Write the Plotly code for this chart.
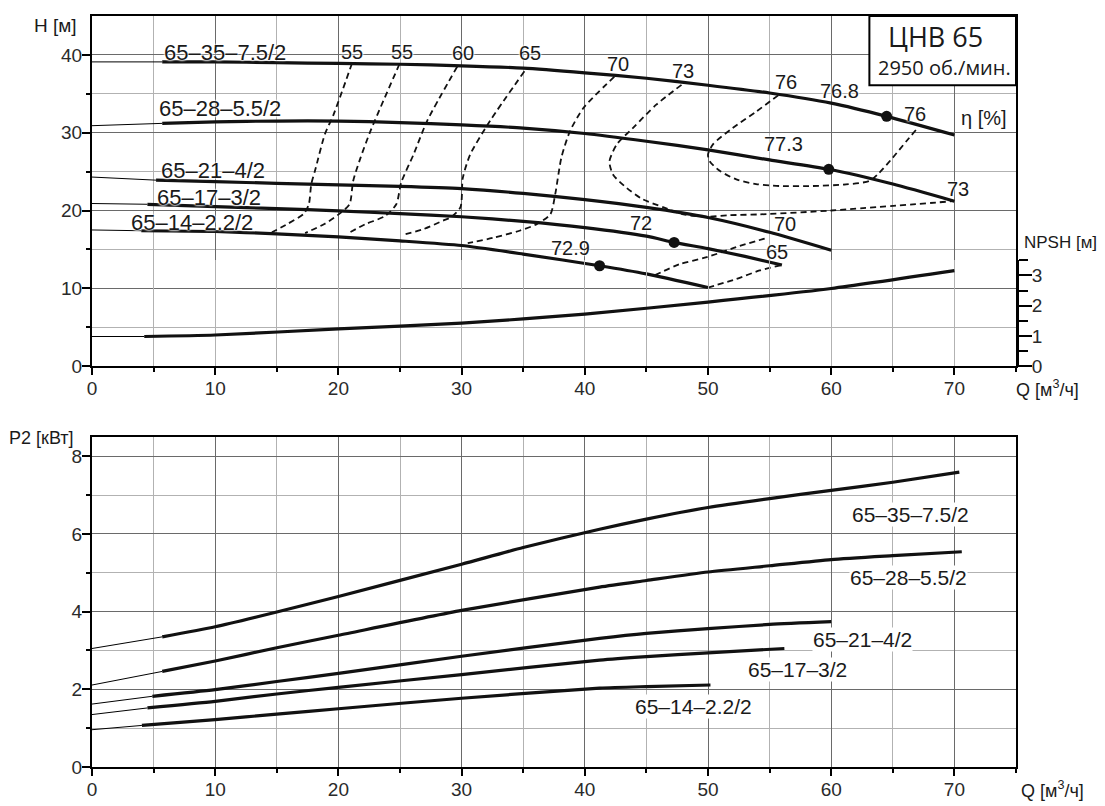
import plotly.graph_objects as go

# ---------------- data ----------------
q_ticks = [0, 5, 10, 15, 20, 25, 30, 35, 40, 45, 50, 55, 60, 65, 70, 75]
q_ticktext = ["0", "", "10", "", "20", "", "30", "", "40", "", "50", "", "60", "", "70", ""]
q_major = [0, 10, 20, 30, 40, 50, 60, 70]
h_ticks = [0, 5, 10, 15, 20, 25, 30, 35, 40]
h_ticktext = ["0", "", "10", "", "20", "", "30", "", "40"]
h_major = [0, 10, 20, 30, 40]
p_ticks = [0, 1, 2, 3, 4, 5, 6, 7, 8]
p_ticktext = ["0", "", "2", "", "4", "", "6", "", "8"]
p_major = [0, 2, 4, 6, 8]
npsh_ticks = [0, 0.5, 1, 1.5, 2, 2.5, 3, 3.5]
npsh_ticktext = ["0", "", "1", "", "2", "", "3", ""]
npsh_major = [0, 1, 2, 3]

pump_names = ["65–35–7.5/2", "65–28–5.5/2", "65–21–4/2", "65–17–3/2", "65–14–2.2/2"]

# H(Q) curves (first point = Q 0, thin extension up to second point)
h35_q = [0, 5.7, 10, 15, 20, 25, 30, 35, 40, 45, 50, 55, 60, 64.5, 70]
h35_h = [39.1, 39.1, 39.1, 39.0, 38.9, 38.8, 38.6, 38.3, 37.7, 37.0, 36.1, 35.1, 33.8, 32.1, 29.7]
h28_q = [0, 5.7, 10, 15, 20, 25, 30, 35, 40, 45, 50, 55, 59.8, 65, 70]
h28_h = [30.9, 31.2, 31.4, 31.5, 31.5, 31.3, 31.0, 30.6, 29.9, 28.9, 27.8, 26.5, 25.3, 23.4, 21.2]
h21_q = [0, 5.2, 10, 15, 20, 25, 30, 35, 40, 45, 50, 55, 60]
h21_h = [24.3, 23.9, 23.7, 23.5, 23.3, 23.1, 22.8, 22.2, 21.4, 20.4, 19.1, 17.2, 14.9]
h17_q = [0, 4.5, 10, 15, 20, 25, 30, 35, 40, 45, 47.25, 50, 53, 56]
h17_h = [20.9, 20.8, 20.5, 20.25, 19.95, 19.6, 19.2, 18.6, 17.8, 16.7, 15.9, 15.1, 14.1, 13.0]
h14_q = [0, 4.0, 10, 15, 20, 25, 30, 35, 41.2, 45, 50]
h14_h = [17.5, 17.4, 17.3, 17.0, 16.6, 16.1, 15.5, 14.4, 12.9, 11.85, 10.1]

# best efficiency points
bep_q = [64.5, 59.8, 47.25, 41.2]
bep_h = [32.1, 25.3, 15.9, 12.9]
bep_eta = ["76.8", "77.3", "72", "72.9"]

# NPSH(Q)
npsh_q = [0, 4.24, 10, 20, 30, 40, 50, 60, 70]
npsh_v = [0.98, 0.98, 1.03, 1.23, 1.42, 1.72, 2.12, 2.57, 3.16]

# iso-efficiency curves
eta55a_q = [21.1, 19.6, 18.9, 18.1, 17.8, 17.6, 17.2, 15.9, 14.6]
eta55a_h = [38.9, 32.3, 29.8, 25.1, 23.4, 20.8, 19.6, 18.3, 17.2]
eta55b_q = [24.95, 22.6, 21.8, 21.2, 20.9, 20.1, 18.9, 17.3]
eta55b_h = [38.8, 30.2, 26.8, 23.8, 20.8, 19.6, 18.3, 17.1]
eta60_q = [29.65, 27.2, 26.1, 25.1, 24.7, 23.8, 22.2, 20.7]
eta60_h = [38.5, 31.5, 27.2, 23.6, 20.8, 19.3, 18.25, 17.0]
eta65_q = [35.1, 32.3, 30.7, 30.1, 29.9, 29.1, 28.5, 26.9, 25.25]
eta65_h = [37.9, 31.5, 27.2, 24.2, 20.4, 19.1, 18.7, 17.6, 16.9]
eta70_q = [42.4, 39.9, 38.8, 38.1, 37.6, 37.2, 36.1, 34.7, 32.6, 30.5]
eta70_h = [37.2, 33.2, 30.2, 26.8, 22.1, 19.5, 18.25, 17.4, 16.5, 15.8]
eta73_q = [47.85, 45.8, 43.9, 42.6, 42.0, 42.3, 43.4, 44.7, 46.4, 48.0, 49.9, 51.8, 54.2, 60.0, 69.9]
eta73_h = [36.15, 33.6, 30.6, 28.5, 26.3, 24.6, 22.9, 21.45, 20.4, 19.5, 19.2, 19.4, 19.5, 20.0, 21.2]
eta76_q = [55.7, 53.9, 52.0, 50.4, 50.0, 50.15, 50.95, 52.3, 53.9, 55.8, 58.5, 61.2, 63.1, 63.9, 65.0, 66.1, 66.9]
eta76_h = [34.8, 32.7, 30.6, 28.5, 27.2, 26.3, 25.1, 24.0, 23.4, 23.15, 23.15, 23.35, 23.8, 24.85, 26.8, 28.9, 30.4]
eta70b_q = [45.7, 47.7, 49.9, 52.3, 54.6]
eta70b_h = [11.7, 13.1, 14.0, 15.3, 16.4]
eta65b_q = [50.0, 52.3, 54.2, 56.0]
eta65b_h = [10.1, 11.2, 12.3, 13.0]

# P2(Q) curves
p35_q = [0, 5.7, 10, 15, 20, 30, 35, 41.2, 45, 50, 55, 60, 65, 70.4]
p35_v = [3.05, 3.35, 3.61, 3.99, 4.39, 5.22, 5.65, 6.12, 6.38, 6.68, 6.91, 7.12, 7.33, 7.59]
p28_q = [0, 5.7, 10, 15, 20, 30, 41.2, 45, 50, 55, 60, 65, 70.6]
p28_v = [2.11, 2.46, 2.73, 3.07, 3.39, 4.03, 4.63, 4.80, 5.02, 5.18, 5.34, 5.44, 5.54]
p21_q = [0, 4.9, 10, 15, 20, 30, 41.2, 45, 50, 55, 60]
p21_v = [1.62, 1.82, 1.99, 2.20, 2.41, 2.85, 3.31, 3.44, 3.56, 3.67, 3.74]
p17_q = [0, 4.5, 10, 15, 20, 30, 41.2, 45, 50, 56.2]
p17_v = [1.35, 1.52, 1.69, 1.88, 2.05, 2.38, 2.75, 2.84, 2.94, 3.05]
p14_q = [0, 4.05, 10, 15, 20, 30, 41.2, 45, 50.2]
p14_v = [0.96, 1.07, 1.22, 1.36, 1.50, 1.77, 2.03, 2.07, 2.11]

# ---------------- figure ----------------
FONT = "Liberation Sans, Arial, sans-serif"
FONT2 = "Open Sans, Liberation Sans, sans-serif"
INK = "#1a1a1a"
HALO = "0px 0px 2px white, 0px 0px 2px white, 0px 0px 3px white"
fig = go.Figure()

# empty helper traces so that the overlay (major-grid / major-tick) axes are drawn
for xa, ya in [("x4", "y"), ("x", "y4"), ("x5", "y2"), ("x2", "y5"), ("x", "y6")]:
    fig.add_trace(go.Scatter(x=[], y=[], xaxis=xa, yaxis=ya, mode="lines",
                             hoverinfo="skip", showlegend=False))


def add_pump_curve(q, v, xa, ya):
    fig.add_trace(go.Scatter(x=q[:2], y=v[:2], mode="lines", xaxis=xa, yaxis=ya,
                             line=dict(color="black", width=1), hoverinfo="skip", showlegend=False))
    fig.add_trace(go.Scatter(x=q[1:], y=v[1:], mode="lines", xaxis=xa, yaxis=ya,
                             line=dict(color="#111111", width=3.2, shape="spline", smoothing=0.6),
                             hoverinfo="skip", showlegend=False))


def add_iso(q, h):
    fig.add_trace(go.Scatter(x=q, y=h, mode="lines", xaxis="x", yaxis="y",
                             line=dict(color="#111111", width=1.8, dash="6px,4px", shape="spline", smoothing=0.7),
                             hoverinfo="skip", showlegend=False))


for q, h in [(eta55a_q, eta55a_h), (eta55b_q, eta55b_h), (eta60_q, eta60_h), (eta65_q, eta65_h),
             (eta70_q, eta70_h), (eta73_q, eta73_h), (eta76_q, eta76_h), (eta70b_q, eta70b_h),
             (eta65b_q, eta65b_h)]:
    add_iso(q, h)

for q, h in [(h35_q, h35_h), (h28_q, h28_h), (h21_q, h21_h), (h17_q, h17_h), (h14_q, h14_h)]:
    add_pump_curve(q, h, "x", "y")

add_pump_curve(npsh_q, npsh_v, "x", "y3")

fig.add_trace(go.Scatter(x=bep_q, y=bep_h, mode="markers", xaxis="x", yaxis="y",
                         marker=dict(color="#111111", size=11), hoverinfo="skip", showlegend=False))

for q, p in [(p35_q, p35_v), (p28_q, p28_v), (p21_q, p21_v), (p17_q, p17_v), (p14_q, p14_v)]:
    add_pump_curve(q, p, "x2", "y2")

# layout geometry (page body has 8px offset)
TOP = [0.5338, 1.0]
BOT = [0.0, 0.4397]
NPSH_DOM = [0.5338, 0.6746]
Q_RANGE = [0, 75]
H_RANGE = [0, 45]
P_RANGE = [0, 8.5]
NPSH_RANGE = [0, 3.5]

tickfont = dict(family=FONT, size=19, color="#2a2a2a")
GRID_LIGHT = "#b2b2b2"
GRID_DARK = "#6a6a6a"


def axis_cfg(anchor, dom, rng, tv, tt):
    return dict(domain=dom, range=rng, anchor=anchor, tickmode="array", tickvals=tv, ticktext=tt,
                ticks="outside", ticklen=4, tickwidth=1.5, tickcolor="black",
                showline=True, linewidth=2, linecolor="black", mirror=True,
                showgrid=True, gridcolor=GRID_LIGHT, gridwidth=1, zeroline=False,
                tickfont=tickfont)


def major_cfg(over, anchor, rng, tv, side, ticklen, grid=True):
    return dict(overlaying=over, anchor=anchor, range=rng, side=side, tickmode="array",
                tickvals=tv, showticklabels=False, ticks="outside", ticklen=ticklen,
                tickwidth=1.5, tickcolor="black", showline=False, zeroline=False,
                showgrid=grid, gridcolor=GRID_DARK, gridwidth=1)


fig.update_layout(
    width=1097, height=798,
    margin=dict(l=84, r=89, t=6, b=37),
    paper_bgcolor="white", plot_bgcolor="rgba(0,0,0,0)",
    showlegend=False,
    xaxis=axis_cfg("y", [0, 1], Q_RANGE, q_ticks, q_ticktext),
    yaxis=axis_cfg("x", TOP, H_RANGE, h_ticks, h_ticktext),
    xaxis2=axis_cfg("y2", [0, 1], Q_RANGE, q_ticks, q_ticktext),
    yaxis2=axis_cfg("x2", BOT, P_RANGE, p_ticks, p_ticktext),
    xaxis4=major_cfg("x", "y", Q_RANGE, q_major, "bottom", 8),
    yaxis4=major_cfg("y", "x", H_RANGE, h_major, "left", 9),
    xaxis5=major_cfg("x2", "y2", Q_RANGE, q_major, "bottom", 8),
    yaxis5=major_cfg("y2", "x2", P_RANGE, p_major, "left", 9),
    yaxis3=dict(domain=NPSH_DOM, range=NPSH_RANGE, anchor="x", side="right",
                tickmode="array", tickvals=npsh_ticks, ticktext=npsh_ticktext,
                ticks="outside", ticklen=9,
                tickwidth=1.5, tickcolor="black", showline=True, linewidth=3,
                linecolor="black", showgrid=False, zeroline=False,
                tickfont=dict(family=FONT, size=19, color="#2a2a2a")),
    yaxis6=major_cfg("y3", "x", NPSH_RANGE, npsh_major, "right", 15, grid=False),
)

# title box
fig.add_shape(type="rect", xref="x", yref="y", x0=63.1, x1=75, y0=36.1, y1=45,
              line=dict(color="black", width=2), fillcolor="white", layer="above")

ann = []


def txt(x, y, s, size=20, xref="x", yref="y", xanchor="center", family=FONT, bg=None, halo=True):
    f = dict(family=family, size=size, color=INK)
    if halo:
        f["shadow"] = HALO
    d = dict(x=x, y=y, xref=xref, yref=yref, text=s, showarrow=False,
             xanchor=xanchor, yanchor="middle", borderpad=0, font=f)
    if bg:
        d["bgcolor"] = bg
    ann.append(d)


# box texts
txt(68.45, 42.4, "ЦНВ 65", size=27, family=FONT2, halo=False)
txt(69.2, 38.4, "2950 об./мин.", size=20, family=FONT2, halo=False)

# pump labels, top chart
top_label_pos = [(5.79, 40.3), (5.38, 33.07), (5.54, 25.13), (5.22, 21.68), (3.11, 18.48)]
for name, (x, y) in zip(pump_names, top_label_pos):
    txt(x, y, name, size=22, xanchor="left")

# pump labels, bottom chart
bot_label_pos = [(61.64, 6.51), (61.45, 4.87), (58.45, 3.27), (53.15, 2.50), (44.03, 1.57)]
for name, (x, y) in zip(pump_names, bot_label_pos):
    txt(x, y, name, size=21, xref="x2", yref="y2", xanchor="left", bg="white", halo=False)

# efficiency labels
eta_labels = [("55", 21.08, 40.42), ("55", 25.18, 40.42), ("60", 30.13, 40.29), ("65", 35.57, 40.29),
              ("70", 42.71, 38.88), ("73", 47.98, 37.99), ("76", 56.34, 36.58), ("76", 66.81, 32.36),
              ("73", 70.3, 22.77), ("70", 56.26, 18.29), ("65", 55.6, 14.71)]
for s, x, y in eta_labels:
    txt(x, y, s, size=20)
bep_label_pos = [(60.64, 35.30), (56.1, 28.52), (44.57, 18.42), (38.81, 15.22)]
for s, (x, y) in zip(bep_eta, bep_label_pos):
    txt(x, y, s, size=20)

# axis titles
txt(-0.0152, 0.988, "H [м]", size=19, xref="paper", yref="paper", xanchor="right", halo=False)
txt(-0.0184, 0.4384, "P2 [кВт]", size=18, xref="paper", yref="paper", xanchor="right", halo=False)
txt(1.0346, 0.5046, "Q [м<sup>3</sup>/ч]", size=18, xref="paper", yref="paper", halo=False)
txt(1.039, -0.0305, "Q [м<sup>3</sup>/ч]", size=18, xref="paper", yref="paper", halo=False)
txt(72.4, 31.85, "η [%]", size=20, halo=False)
txt(1.0887, 0.698, "NPSH [м]", size=17, xref="paper", yref="paper", xanchor="right", halo=False)

fig.update_layout(annotations=ann)

fig.write_html("out.html")
